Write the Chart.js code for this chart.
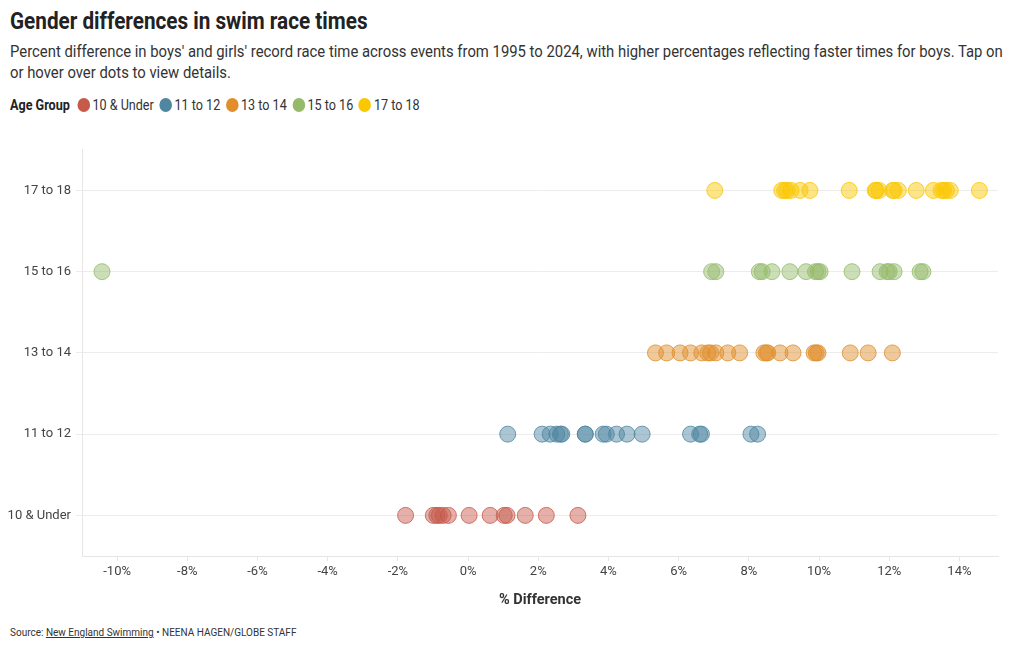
<!DOCTYPE html>
<html>
<head>
<meta charset="utf-8">
<script src="https://cdn.jsdelivr.net/npm/chart.js@4"></script>
<style>
  body { margin: 0; background: #fff; font-family: 'Roboto', sans-serif; color: #333; }
  #wrap { position: relative; width: 1020px; height: 650px; overflow: hidden; }
  .narrow { transform: scaleX(0.9); transform-origin: left top; }
  h1 { position: absolute; left: 10px; top: 8px; margin: 0; font-size: 23px; font-weight: bold; color: #222; white-space: nowrap; }
  .sub { position: absolute; left: 10px; top: 41px; width: 1106px; font-size: 16.5px; line-height: 21px; color: #333; }
  .legend { position: absolute; left: 10px; top: 97px; font-size: 14px; color: #333; display: flex; align-items: center; white-space: nowrap; }
  .legend b { margin-right: 8px; color: #222; }
  .legend span.item { display: flex; align-items: center; margin-right: 6px; }
  .legend i { display: inline-block; width: 14px; height: 14px; border-radius: 50%; margin-right: 3px; }
  #chartBox { position: absolute; left: 0; top: 137px; width: 1020px; height: 483px; }
  .src { position: absolute; left: 10px; top: 627px; font-size: 10px; color: #333; white-space: nowrap; }
  .src u { color: #333; }
</style>
</head>
<body>
<div id="wrap">
  <h1 class="narrow">Gender differences in swim race times</h1>
  <div class="sub narrow">Percent difference in boys' and girls' record race time across events from 1995 to 2024, with higher percentages reflecting faster times for boys. Tap on or hover over dots to view details.</div>
  <div class="legend narrow" id="legend"><b>Age Group</b></div>
  <div id="chartBox"><canvas id="swimChart"></canvas></div>
  <div class="src">Source: <u>New England Swimming</u> • NEENA HAGEN/GLOBE STAFF</div>
</div>
<script>
// age groups, bottom row first
const groups = ['10 & Under', '11 to 12', '13 to 14', '15 to 16', '17 to 18'];
const colors = ['#c65a4b', '#4f86a0', '#e08f2c', '#95bb6a', '#fac700'];

// % difference per event
const under10 = [-1.78, -0.99, -0.89, -0.82, -0.71, -0.56, 0.03, 0.63, 1.03, 1.11, 1.63, 2.23, 3.13];
const age11to12 = [1.13, 2.11, 2.34, 2.53, 2.63, 2.67, 3.34, 3.34, 3.85, 3.94, 4.23, 4.53, 4.96, 6.34, 6.6, 6.65, 8.06, 8.25];
const age13to14 = [5.34, 5.66, 6.04, 6.34, 6.66, 6.83, 6.91, 7.06, 7.4, 7.74, 8.43, 8.5, 8.54, 8.89, 9.26, 9.86, 9.92, 9.97, 10.89, 11.4, 12.09];
const age15to16 = [-10.43, 6.94, 7.06, 8.3, 8.38, 8.66, 9.17, 9.63, 9.9, 9.97, 10.03, 10.94, 11.74, 11.94, 12.0, 12.14, 12.88, 12.96];
const age17to18 = [7.03, 8.94, 9.02, 9.09, 9.2, 9.46, 9.74, 10.86, 11.6, 11.63, 11.71, 12.1, 12.14, 12.26, 12.77, 13.26, 13.48, 13.55, 13.63, 13.74, 14.57];

const series = [under10, age11to12, age13to14, age15to16, age17to18];

function hexAlpha(hex, a) {
    const n = parseInt(hex.slice(1), 16);
    return `rgba(${n >> 16}, ${(n >> 8) & 255}, ${n & 255}, ${a})`;
}

// html legend
const legend = document.getElementById('legend');
groups.forEach((g, i) => {
    const s = document.createElement('span');
    s.className = 'item';
    s.innerHTML = `<i style="background:${colors[i]}"></i>${g}`;
    legend.appendChild(s);
});

const font = "'Roboto', sans-serif";

const datasets = series.map((vals, i) => ({
    label: groups[i],
    data: vals.map(v => ({ x: v, y: i })),
    backgroundColor: hexAlpha(colors[i], 0.48),
    borderColor: hexAlpha(colors[i], 0.8),
    borderWidth: 1,
    pointRadius: 8,
    pointHoverRadius: 9
}));

new Chart(document.getElementById('swimChart'), {
    type: 'scatter',
    data: { datasets },
    options: {
        responsive: true,
        maintainAspectRatio: false,
        animation: false,
        layout: { padding: { top: 7, right: 22, left: 0, bottom: 11 } },
        scales: {
            x: {
                min: -11,
                max: 15.1,
                afterBuildTicks: axis => {
                    axis.ticks = [-10, -8, -6, -4, -2, 0, 2, 4, 6, 8, 10, 12, 14].map(v => ({ value: v }));
                },
                afterFit: axis => { axis.height = 53; },
                ticks: {
                    callback: v => v + '%',
                    color: '#444',
                    font: { family: font, size: 13 },
                    padding: 3
                },
                grid: { drawOnChartArea: false, color: '#e6e6e6', tickLength: 5 },
                border: { color: '#e6e6e6' },
                title: {
                    display: true,
                    text: '% Difference',
                    color: '#333',
                    font: { family: font, size: 14.5, weight: 'bold' },
                    padding: { top: 4, bottom: 0 }
                }
            },
            y: {
                min: -0.5,
                max: 4.5,
                afterBuildTicks: axis => {
                    axis.ticks = groups.map((g, i) => ({ value: i }));
                },
                afterFit: axis => { axis.width = 82; },
                ticks: {
                    callback: v => groups[v],
                    color: '#444',
                    font: { family: font, size: 13 },
                    padding: 5
                },
                grid: { color: '#ececec', tickLength: 6 },
                border: { color: '#e6e6e6' }
            }
        },
        plugins: {
            legend: { display: false },
            tooltip: {
                callbacks: {
                    label: ctx => `${ctx.dataset.label}: ${ctx.parsed.x}%`
                }
            }
        }
    }
});
</script>
</body>
</html>
